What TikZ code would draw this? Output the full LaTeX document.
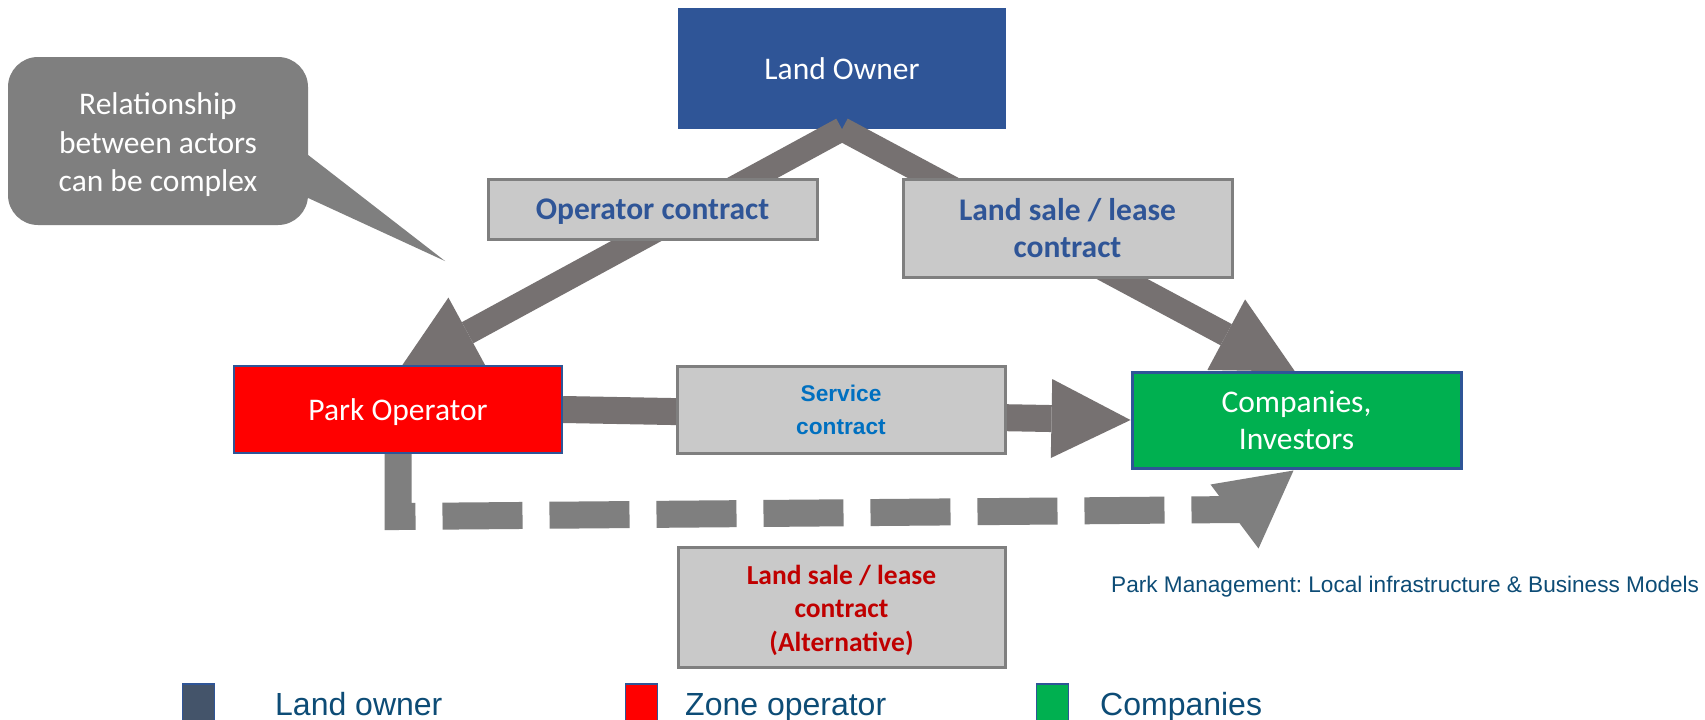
\documentclass[tikz,border=0pt]{standalone}
\usepackage{fontspec}
\setmainfont{Carlito}
\newfontfamily\arialf{Liberation Sans}
\usetikzlibrary{arrows.meta,calc}
\definecolor{loblue}{HTML}{2F5597}
\definecolor{arrgray}{HTML}{767171}
\definecolor{dashgray}{HTML}{7F7F7F}
\definecolor{boxfill}{HTML}{C9C9C9}
\definecolor{boxline}{HTML}{7F7F7F}
\definecolor{pored}{HTML}{FF0000}
\definecolor{cogreen}{HTML}{00B050}
\definecolor{altred}{HTML}{C00000}
\definecolor{svcblue}{HTML}{0070C0}
\definecolor{legtext}{HTML}{0D4C76}
\definecolor{legslate}{HTML}{44546A}
\pgfdeclarelayer{lolayer}
\pgfdeclarelayer{arrlayer}
\pgfsetlayers{lolayer,arrlayer,main}
\frenchspacing
\begin{document}
\frenchspacing
\begin{tikzpicture}[x=1pt,y=-1pt,
  actor/.style={inner sep=0pt, minimum width=328pt, align=center, text=white,
    font=\fontsize{31.5}{37}\selectfont},
  labelbox/.style={draw=boxline, line width=3pt, fill=boxfill, inner sep=0pt, align=center},
  bigarrow/.style={draw=arrgray, line width=24pt,
    -{Triangle[width=80pt,length=78pt,line width=0pt]}},
  svcarrow/.style={draw=arrgray, line width=27pt,
    -{Triangle[width=79pt,length=79pt,line width=0pt]}},
  dasharrow/.style={draw=dashgray, line width=27pt, line join=miter,
    dash pattern=on 80pt off 27pt},
  legsq/.style={draw=loblue, line width=1.5pt, minimum width=32pt, minimum height=40pt, inner sep=0pt},
  legtxt/.style={anchor=base west, inner sep=0pt, text=legtext,
    font=\arialf\fontsize{32}{38}\selectfont}
]
\useasboundingbox (0,0) rectangle (1705,720);
\begin{pgfonlayer}{lolayer}
\fill[white] (0,0) rectangle (1705,720);
\node[actor, fill=loblue, minimum height=121pt] (LO) at (842,68.5) {Land Owner};
\end{pgfonlayer}

% callout
\node[fill=dashgray, rounded corners=30pt, minimum width=300pt, minimum height=168pt,
  inner sep=0pt] (note) at (158,141) {};
\node[text=white, align=center, inner sep=0pt, font=\fontsize{31.5}{38.5}\selectfont]
  (notetext) at (158,145) {Relationship\\between actors\\can be complex};
\coordinate (ptip) at (445,261);
\fill[dashgray] ($(note.east)+(-10,6.3)$) -- (ptip) -- ($(note.east)+(-10,52.4)$) -- cycle;

% actors
\node[actor, fill=pored, draw=loblue, line width=2pt, minimum height=87pt, text depth=0pt] (PO) at (398,409.5) {Park Operator};
\node[actor, fill=cogreen, draw=loblue, line width=3pt, minimum height=96pt, minimum width=329pt]
  (CO) at (1296.5,420) {Companies,\\Investors};

% connectors
\begin{pgfonlayer}{arrlayer}
\draw[bigarrow] (LO.south) -- ($(PO.north)+(1,5)$);
\draw[bigarrow] (LO.south) -- ($(CO.north)+(-1.5,1)$);
\draw[svcarrow] (PO.east) -- (CO.west);
\draw[dasharrow] (PO.south) -- ++(0,62.5) -- ($(CO.south)+(-57.5,40)$);
\fill[dashgray] ($(CO.south)+(-3,1)$) -- ++(-83,14) -- ++(48,64) -- cycle;
\end{pgfonlayer}

% contract labels
\node[labelbox, minimum width=329pt, minimum height=60pt, text=loblue, text depth=0pt,
  font=\bfseries\fontsize{31.5}{37}\selectfont] (OC) at (652.5,209) {Operator contract};
\node[labelbox, minimum width=329pt, minimum height=98pt, text=loblue,
  font=\bfseries\fontsize{31.5}{37}\selectfont] (LS) at (1067.5,228) {Land sale / lease\\contract};
\node[labelbox, minimum width=328pt, minimum height=87pt, text=svcblue,
  font=\arialf\bfseries\fontsize{22.7}{33}\selectfont] (SC) at (841,409.5) {Service\\contract};
\node[labelbox, minimum width=327pt, minimum height=120pt] (AL) at (841.5,607) {};
\node[inner sep=0pt, align=center, text=altred,
  font=\bfseries\fontsize{27.5}{33.5}\selectfont] (ALtext) at ($(AL.center)+(0,3)$) {Land sale / lease\\contract\\(Alternative)};

% footer
\node[anchor=base west, inner sep=0pt, text=legtext, font=\arialf\fontsize{22.6}{27}\selectfont]
  (foot) at (1111,592) {Park Management: Local infrastructure \& Business Models};

% legend
\node[legsq, fill=legslate] (k1) at (198.5,704) {};
\node[legtxt] (k1t) at (275,715) {Land owner};
\node[legsq, fill=pored] (k2) at (641.5,704) {};
\node[legtxt] (k2t) at (685,715) {Zone operator};
\node[legsq, fill=cogreen] (k3) at (1052.5,704) {};
\node[legtxt] (k3t) at (1100,715) {Companies};
\end{tikzpicture}
\end{document}
